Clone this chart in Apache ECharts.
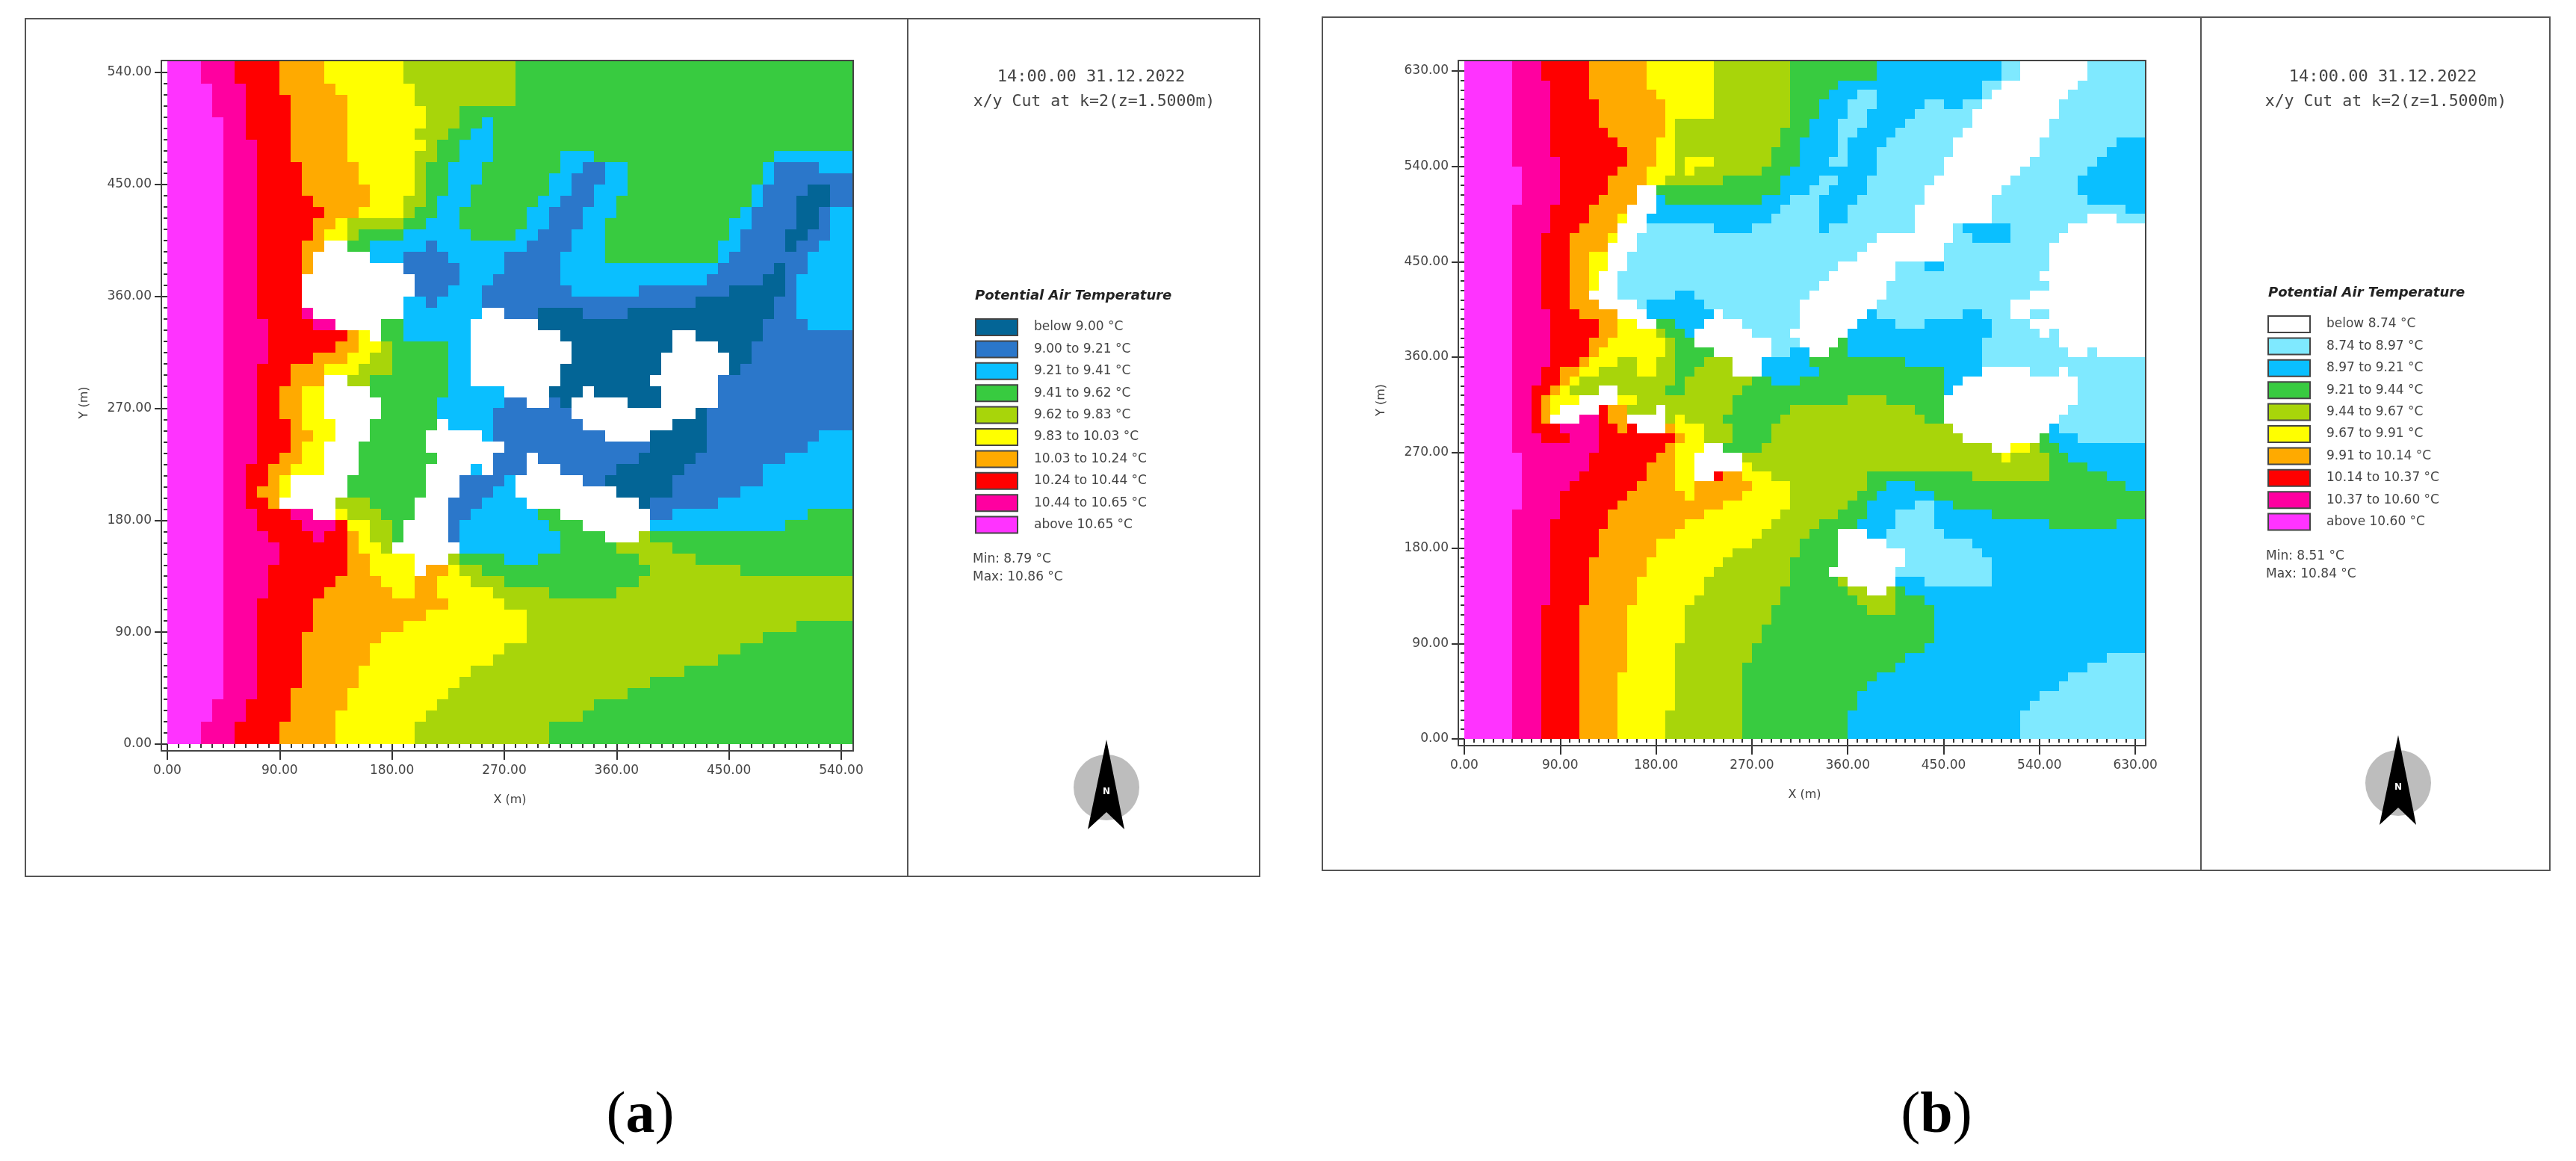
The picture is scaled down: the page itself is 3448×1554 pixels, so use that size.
<!DOCTYPE html>
<html>
<head>
<meta charset="utf-8">
<title>Potential Air Temperature</title>
<script src="https://cdn.jsdelivr.net/npm/echarts@6/dist/echarts.min.js"></script>
<style>
    html, body {margin: 0; padding: 0; background: #fff;}
    #chart {width: 3448px; height: 1554px;}
</style>
</head>
<body>
<div id="chart"></div>
<script>
var cellSize = 9;

var headerTime = '14:00.00 31.12.2022';
var headerCut = 'x/y Cut at k=2(z=1.5000m)';
var legendTitle = 'Potential Air Temperature';

var tickValuesA = [0, 90, 180, 270, 360, 450, 540];
var tickValuesB = [0, 90, 180, 270, 360, 450, 540, 630];

// a..j = legend classes from lowest to highest, w = no value (white)
var classKeys = ['a', 'b', 'c', 'd', 'e', 'f', 'g', 'h', 'i', 'j'];

var labelsA = ['below 9.00 °C', '9.00 to 9.21 °C', '9.21 to 9.41 °C', '9.41 to 9.62 °C', '9.62 to 9.83 °C',
    '9.83 to 10.03 °C', '10.03 to 10.24 °C', '10.24 to 10.44 °C', '10.44 to 10.65 °C', 'above 10.65 °C'];
var labelsB = ['below 8.74 °C', '8.74 to 8.97 °C', '8.97 to 9.21 °C', '9.21 to 9.44 °C', '9.44 to 9.67 °C',
    '9.67 to 9.91 °C', '9.91 to 10.14 °C', '10.14 to 10.37 °C', '10.37 to 10.60 °C', 'above 10.60 °C'];

var colorsA = ['#036596', '#2B77CA', '#0ABFFF', '#38CB40', '#A8D50A', '#FFFF00', '#FFAA00', '#FF0000', '#FF00A0', '#FF33FF'];
var colorsB = ['#FFFFFF', '#7FE9FF', '#0ABFFF', '#38CB40', '#A8D50A', '#FFFF00', '#FFAA00', '#FF0000', '#FF00A0', '#FF33FF'];

var minMaxA = ['Min: 8.79 °C', 'Max: 10.86 °C'];
var minMaxB = ['Min: 8.51 °C', 'Max: 10.84 °C'];

// each row top to bottom: class letter + column where that run ends
var rowsA = [
    'j3 i6 h10 g14 f21 e31 d61',
    'j3 i6 h10 g14 f21 e31 d61',
    'j4 i7 h10 g15 f22 e31 d61',
    'j4 i7 h11 g16 f22 e31 d61',
    'j4 i7 h11 g16 f23 e26 d61',
    'j5 i7 h11 g16 f23 e26 d28 c29 d61',
    'j5 i7 h11 g16 f22 e25 d27 c29 d61',
    'j5 i8 h11 g16 f23 e24 d26 c29 d61',
    'j5 i8 h11 g16 f22 e24 d26 c29 d35 c38 d54 c61',
    'j5 i8 h12 g17 f22 e23 d25 c28 d35 c37 b39 c41 d53 c54 b58 c61',
    'j5 i8 h12 g17 f22 e23 d25 c28 d34 c36 b39 c41 d53 c54 b61',
    'j5 i8 h12 g18 f22 e23 d25 c27 d34 c36 b38 c41 d52 c53 b57 a59 b61',
    'j5 i8 h13 g18 f21 e23 d24 c27 d33 c35 b38 c40 d52 c53 b56 a59 b61',
    'j5 i8 h14 g17 f21 e22 d24 c26 d32 c34 b37 c40 d51 c52 b56 a58 b59 c61',
    'j5 i8 h13 g15 f16 e21 d23 c26 d32 c34 b37 c39 d50 c52 b56 a58 b59 c61',
    'j5 i8 h13 g14 f16 e17 d21 c27 d31 c33 b36 c39 d50 c51 b55 a57 b59 c61',
    'j5 i8 h12 g14 w16 d18 c23 b24 c32 b36 c39 d49 c51 b55 a56 b58 c61',
    'j5 i8 h12 g13 w18 c21 b25 c30 b35 c39 d49 c50 b57 c61',
    'j5 i8 h12 g13 w21 b26 c30 b35 c49 b54 a55 b57 c61',
    'j5 i8 h12 w22 b26 c29 b35 c48 b53 a55 b56 c61',
    'j5 i8 h12 w22 b25 c28 b36 c42 b50 a55 b56 c61',
    'j5 i8 h12 w21 c23 b24 c28 b47 a54 b56 c61',
    'j5 i8 h12 i13 w21 c28 w30 b33 a37 b41 a54 b56 c61',
    'j5 i9 h13 i15 w19 d21 c27 w33 a53 b57 c61',
    'j5 i9 h16 g17 f18 w19 d21 c27 w35 a45 w47 a53 b61',
    'j5 i9 h15 g17 f19 e20 d25 c27 w36 a45 w49 a52 b61',
    'j5 i9 h13 g16 f18 e20 d25 c27 w36 a44 w50 a52 b61',
    'j5 i8 h11 g14 f17 e20 d25 c27 w35 a44 w50 a51 b61',
    'j5 i8 h11 g14 w16 e18 d25 c27 w35 a43 w49 b61',
    'j5 i8 h10 g12 f14 w18 d25 c30 w34 a37 w38 a44 w49 b61',
    'j5 i8 h10 g12 f14 w19 d24 c30 b32 w34 b35 a36 w41 a44 w49 b61',
    'j5 i8 h10 g12 f14 w19 d24 c29 b36 w47 a48 b61',
    'j5 i8 h11 g12 f15 w18 d24 w25 c29 b37 w45 a48 b61',
    'j5 i8 h11 g13 f15 w18 d23 w28 c29 b39 w43 a48 b58 c61',
    'j5 i8 h11 g12 f14 w17 d23 w30 b43 a48 b57 c61',
    'j5 i8 h10 g12 f14 w17 d24 w29 b32 w33 b42 a47 b55 c61',
    'j5 i7 h9 g11 f14 w17 d23 w27 c28 w29 b32 w35 b40 a46 b53 c61',
    'j5 i7 h9 g10 f11 w16 d23 w26 b30 c31 w37 b39 a45 b53 c61',
    'j5 i7 h8 g10 f11 w16 d23 w26 b29 c31 w40 a45 b51 c61',
    'j5 i7 h9 g10 w15 e18 d22 w25 b28 c32 w42 a43 b49 c61',
    'j5 i8 h11 i13 w15 f16 e19 d22 w25 b27 c33 d35 w43 b45 c57 d61',
    'j5 i8 h12 i15 h16 f18 e20 d21 w25 b26 c34 d37 w43 c55 d61',
    'j5 i9 h13 i14 h16 g17 f18 e20 d21 w25 b26 c35 d39 w42 e43 d61',
    'j5 i10 h16 g17 f19 e20 w26 c35 d40 e45 d61',
    'j5 i10 h16 g18 f22 w25 e26 d30 c33 d42 e47 d61',
    'j5 i9 h16 g18 f22 w23 g25 f26 e28 d43 e51 d61',
    'j5 i9 h15 g19 f22 g24 f27 e30 d42 e61',
    'j5 i9 h14 g20 f22 g24 f29 e34 d40 e61',
    'j5 i8 h13 g25 f30 e61',
    'j5 i8 h13 g23 f32 e61',
    'j5 i8 h13 g21 f32 e56 d61',
    'j5 i8 h12 g19 f32 e53 d61',
    'j5 i8 h12 g18 f30 e51 d61',
    'j5 i8 h12 g18 f29 e49 d61',
    'j5 i8 h12 g17 f27 e46 d61',
    'j5 i8 h12 g17 f26 e43 d61',
    'j5 i8 h11 g16 f25 e41 d61',
    'j4 i7 h11 g16 f24 e38 d61',
    'j4 i7 h11 g15 f23 e37 d61',
    'j3 i6 h10 g15 f22 e34 d61',
    'j3 i6 h10 g15 f22 e34 d61'
];

var rowsB = [
    'j5 i8 h13 g19 f26 e34 d43 c56 b58 a65 b71',
    'j5 i8 h13 g19 f26 e34 d43 c56 b58 a65 b71',
    'j5 i9 h13 g19 f26 e34 d39 c54 b56 a64 b71',
    'j5 i9 h13 g20 f26 e34 d38 c41 b43 c54 b55 a63 b71',
    'j5 i9 h14 g21 f26 e34 d37 c40 b43 c48 b50 c52 b54 a62 b71',
    'j5 i9 h14 g21 f26 e34 d37 c40 b42 c47 b53 a62 b71',
    'j5 i9 h14 g21 f22 e34 d36 c39 b42 c46 b53 a61 b71',
    'j5 i9 h15 g21 f22 e33 d36 c39 b41 c45 b52 a61 b71',
    'j5 i9 h16 g20 f22 e33 d35 c39 b40 c44 b51 a60 b68 c71',
    'j5 i9 h17 g20 f22 e32 d35 c39 b40 c43 b51 a60 b67 c71',
    'j5 i10 h17 g20 f22 e23 f26 e32 d35 c38 b40 c43 b50 a59 b66 c71',
    'j6 i10 h16 g19 f22 e23 f24 e31 d34 c43 b50 a58 b65 c71',
    'j6 i10 h15 g19 f21 e27 d33 c37 b39 c42 b49 a57 b64 c71',
    'j6 i10 h15 g18 a20 d33 c36 b38 c42 b48 a56 b64 c71',
    'j6 i10 h14 g18 a20 c21 d31 c34 b37 c41 b48 a55 b65 c71',
    'j5 i9 h13 g17 a20 c33 b37 c40 b47 a55 b69 c71',
    'j5 i9 h13 g16 f17 a19 c32 b37 c40 b47 a55 b65 a68 b71',
    'j5 i9 h12 g16 a19 b26 c30 b37 c38 b47 a51 b52 c57 b63 a71',
    'j5 i8 h11 g15 f16 a18 b43 a51 b53 c57 b62 a71',
    'j5 i8 h11 g15 a18 b42 a50 b61 a71',
    'j5 i8 h11 g13 f15 a17 b41 a50 b61 a71',
    'j5 i8 h11 g13 f15 a17 b39 a45 b48 c50 b61 a71',
    'j5 i8 h11 g13 f14 a16 b38 a45 b60 a71',
    'j5 i8 h11 g13 f14 a16 b37 a44 b61 a71',
    'j5 i8 h11 g13 a16 b22 c24 b36 a44 b59 a71',
    'j5 i8 h11 g14 a18 b19 c25 b35 a43 b57 a71',
    'j5 i9 h12 g16 a19 c26 a27 b35 a42 c43 b52 c54 b57 a59 b61 a71',
    'j5 i9 h14 g16 f18 a20 d22 c25 a29 b35 a41 c45 b48 c55 b59 a71',
    'j5 i9 h14 g16 f20 e21 d23 c24 a30 b34 a40 c55 b60 a61 b62 a71',
    'j5 i9 h13 g15 f21 e22 d24 a32 b35 a39 d40 c54 b62 a71',
    'j5 i9 h13 g14 f21 e22 d26 a32 b34 c36 a38 d40 c54 b63 a65 b66 a71',
    'j5 i9 h12 g13 f16 e18 f20 e22 d25 e28 a31 c36 d46 c54 b71',
    'j5 i8 h10 g12 f14 e18 f20 e22 d24 e28 a31 c37 d50 c54 a59 b62 a63 b71',
    'j5 i8 h10 g11 f12 e22 d23 e30 d32 c35 d50 c52 a64 b71',
    'j5 i7 h9 g10 f11 e14 a16 e21 d23 e29 d50 c51 a64 b71',
    'j5 i7 h8 g9 f12 a16 f18 e28 d40 e44 d50 a64 b71',
    'j5 i7 h8 g9 f10 a14 h15 g17 e20 a21 e28 d34 e47 d50 a63 b71',
    'j5 i7 h8 g9 a12 i14 h15 g17 a21 e22 f23 e27 d33 e48 d50 a62 b71',
    'j5 i7 h10 i14 h16 g17 h18 a21 g22 f25 e28 d32 e51 a61 c62 b71',
    'j5 i8 h11 i14 h22 g23 f25 e28 d32 e52 a60 d61 c64 b71',
    'j5 i14 h21 g22 f25 a27 d31 e55 a57 f59 e60 d62 c71',
    'j6 i13 h20 g22 f24 a29 e56 f57 e61 d63 c71',
    'j6 i13 h19 g22 f24 a29 f30 e61 d65 c71',
    'j6 i12 h19 g22 f24 a26 h27 g29 f32 e42 d53 e61 d67 c71',
    'j6 i11 h18 g22 f24 g30 f34 e42 d44 c47 d69 c71',
    'j6 i10 h17 g23 f24 g29 f34 e41 d43 c49 d71',
    'j6 i10 h16 g27 f34 e40 d42 c47 b49 c51 d71',
    'j5 i10 h15 g25 f33 e39 d42 c45 b49 c55 d71',
    'j5 i9 h15 g23 f32 e37 d41 c45 b49 c61 d68 c71',
    'j5 i9 h14 g22 f31 e36 d39 a42 c44 b50 c71',
    'j5 i9 h14 g20 f30 e35 d39 a44 b53 c71',
    'j5 i9 h14 g20 f28 e35 d39 a46 b54 c71',
    'j5 i9 h13 g19 f27 e34 d39 a46 b55 c71',
    'j5 i9 h13 g19 f26 e34 d38 a45 b55 c71',
    'j5 i9 h13 g18 f25 e34 d39 e40 a45 c48 b55 c71',
    'j5 i9 h13 g18 f25 e33 d40 e42 a44 e45 d46 c71',
    'j5 i9 h13 g18 f24 e33 d41 e45 d48 c71',
    'j5 i8 h12 g17 f23 e32 d42 e45 d49 c71',
    'j5 i8 h12 g17 f23 e32 d49 c71',
    'j5 i8 h12 g17 f23 e31 d49 c71',
    'j5 i8 h12 g17 f23 e31 d49 c71',
    'j5 i8 h12 g17 f22 e30 d48 c71',
    'j5 i8 h12 g17 f22 e30 d46 c67 b71',
    'j5 i8 h12 g17 f22 e29 d45 c65 b71',
    'j5 i8 h12 g16 f22 e29 d43 c63 b71',
    'j5 i8 h12 g16 f22 e29 d42 c62 b71',
    'j5 i8 h12 g16 f22 e29 d41 c60 b71',
    'j5 i8 h12 g16 f22 e29 d41 c59 b71',
    'j5 i8 h12 g16 f21 e29 d40 c58 b71',
    'j5 i8 h12 g16 f21 e29 d40 c58 b71',
    'j5 i8 h12 g16 f21 e29 d40 c58 b71'
];

var uiFont = '"DejaVu Sans", sans-serif';
var monoFont = '"DejaVu Sans Mono", monospace';
var inkColor = '#444';

// turn the run strings into [x0, x1, y] in metres for one class
function runsOf(rows, key) {
    var out = [];
    rows.forEach(function (row, r) {
        var start = 0;
        row.split(' ').forEach(function (run) {
            var end = parseInt(run.substr(1), 10);
            if (run.charAt(0) === key) {
                out.push([start * cellSize, end * cellSize, (rows.length - 1 - r) * cellSize]);
            }
            start = end;
        });
    });
    return out;
}

function renderRun(params, api) {
    var p0 = api.coord([api.value(0), api.value(2) + cellSize]);
    var p1 = api.coord([api.value(1), api.value(2)]);
    var x = Math.round(p0[0]);
    var y = Math.round(p0[1]);
    return {
        type: 'rect',
        shape: {x: x, y: y, width: Math.round(p1[0]) - x, height: Math.round(p1[1]) - y},
        style: {fill: api.visual('color')}
    };
}

function makeAxis(type, span, ticks, name, nameGap, rotate, idx) {
    return {
        type: 'value',
        gridIndex: idx,
        min: 0,
        max: span,
        interval: 90,
        name: name,
        nameLocation: 'middle',
        nameGap: nameGap,
        nameRotate: rotate,
        nameTextStyle: {color: inkColor, fontFamily: uiFont, fontSize: 16},
        axisLine: {show: false},
        splitLine: {show: false},
        axisTick: {customValues: ticks, length: type === 'x' ? 21 : 17, lineStyle: {color: '#333', width: 2}},
        minorTick: {show: true, splitNumber: 10, length: 5, lineStyle: {color: '#333', width: 2}},
        axisLabel: {
            customValues: ticks,
            color: inkColor,
            fontFamily: uiFont,
            fontSize: 17,
            margin: type === 'x' ? 27 : 21,
            formatter: function (v) {
                return v.toFixed(2);
            }
        }
    };
}

function panelGraphics(box, divider, plot, arrow, textDy, minMax, caption) {
    var items = [
        {type: 'rect', shape: {x: box[0], y: box[1], width: box[2] - box[0], height: box[3] - box[1]},
            style: {fill: 'none', stroke: '#555', lineWidth: 2}},
        {type: 'line', shape: {x1: divider, y1: box[1], x2: divider, y2: box[3]},
            style: {stroke: '#555', lineWidth: 2}},
        {type: 'rect', z: 10, shape: {x: plot[0], y: plot[1], width: plot[2] - plot[0], height: plot[3] - plot[1]},
            style: {fill: 'none', stroke: '#444', lineWidth: 2}}
    ];
    var tx = divider + 89;
    var mid = (divider + box[2]) / 2;
    items.push({type: 'text', x: mid + 10, y: 103, style: {text: headerTime, font: '22px ' + monoFont,
        fill: inkColor, textAlign: 'center', textVerticalAlign: 'middle'}});
    items.push({type: 'text', x: mid + 14, y: 136, style: {text: headerCut, font: '21.5px ' + monoFont,
        fill: inkColor, textAlign: 'center', textVerticalAlign: 'middle'}});
    items.push({type: 'text', x: tx + 1, y: 396 + textDy, style: {text: legendTitle, font: 'italic bold 18px ' + uiFont,
        fill: '#222', textVerticalAlign: 'middle'}});
    items.push({type: 'text', x: tx - 2, y: 749 + textDy, style: {text: minMax[0], font: '17px ' + uiFont,
        fill: inkColor, textVerticalAlign: 'middle'}});
    items.push({type: 'text', x: tx - 2, y: 773 + textDy, style: {text: minMax[1], font: '17px ' + uiFont,
        fill: inkColor, textVerticalAlign: 'middle'}});
    // north arrow
    items.push({type: 'circle', shape: {cx: arrow[0], cy: arrow[1] + 64, r: 44}, style: {fill: '#BDBDBD'}});
    items.push({type: 'polygon', shape: {points: [
        [arrow[0], arrow[1]], [arrow[0] + 24, arrow[1] + 120], [arrow[0], arrow[1] + 97], [arrow[0] - 25, arrow[1] + 120]
    ]}, style: {fill: '#000'}});
    items.push({type: 'text', x: arrow[0], y: arrow[1] + 70, style: {text: 'N', font: 'bold 12px ' + uiFont, fill: '#fff',
        textAlign: 'center', textVerticalAlign: 'middle'}});
    // caption under the panel
    items.push({type: 'text', x: caption[0], y: caption[1], style: {
        text: '{p|(}{l|' + caption[2] + '}{p|)}',
        textAlign: 'center',
        textVerticalAlign: 'middle',
        rich: {
            p: {font: '78px "Liberation Serif", serif', fill: '#000'},
            l: {font: 'bold 78px "Liberation Serif", serif', fill: '#000'}
        }
    }});
    return items;
}

function makeSeries(rows, labels, colors, idx) {
    return classKeys.map(function (key, i) {
        return {
            type: 'custom',
            name: labels[i],
            xAxisIndex: idx,
            yAxisIndex: idx,
            coordinateSystem: 'cartesian2d',
            renderItem: renderRun,
            itemStyle: {color: colors[i]},
            encode: {x: [0, 1], y: 2},
            silent: true,
            animation: false,
            clip: true,
            data: runsOf(rows, key)
        };
    });
}

function makeLegend(labels, left, top) {
    return {
        orient: 'vertical',
        left: left,
        top: top,
        padding: 0,
        itemWidth: 56,
        itemHeight: 22,
        itemGap: 5.4,
        icon: 'rect',
        selectedMode: false,
        data: labels,
        itemStyle: {borderColor: '#444', borderWidth: 2},
        textStyle: {color: inkColor, fontFamily: uiFont, fontSize: 17, padding: [0, 0, 0, 17]}
    };
}

var myChart = echarts.init(document.getElementById('chart'), null, {renderer: 'canvas'});

var spanA = rowsA.length * cellSize;
var spanB = rowsB.length * cellSize;

var option = {
    backgroundColor: '#fff',
    animation: false,
    grid: [
        {left: 224, top: 82, width: 917, height: 914},
        {left: 1960, top: 82, width: 911, height: 907}
    ],
    xAxis: [makeAxis('x', spanA, tickValuesA, 'X (m)', 67, 0, 0), makeAxis('x', spanB, tickValuesB, 'X (m)', 67, 0, 1)],
    yAxis: [makeAxis('y', spanA, tickValuesA, 'Y (m)', 103, 90, 0), makeAxis('y', spanB, tickValuesB, 'Y (m)', 103, 90, 1)],
    legend: [makeLegend(labelsA, 1305, 426), makeLegend(labelsB, 3035, 422)],
    series: makeSeries(rowsA, labelsA, colorsA, 0).concat(makeSeries(rowsB, labelsB, colorsB, 1)),
    graphic: {
        elements: panelGraphics([34, 25, 1686, 1173], 1215, [216, 81, 1142, 1005], [1481, 990], 0, minMaxA, [857, 1495, 'a'])
            .concat(panelGraphics([1770, 23, 3413, 1165], 2946, [1952, 81, 2872, 998], [3210, 984], -4, minMaxB, [2592, 1495, 'b']))
    }
};

myChart.setOption(option);
</script>
</body>
</html>
